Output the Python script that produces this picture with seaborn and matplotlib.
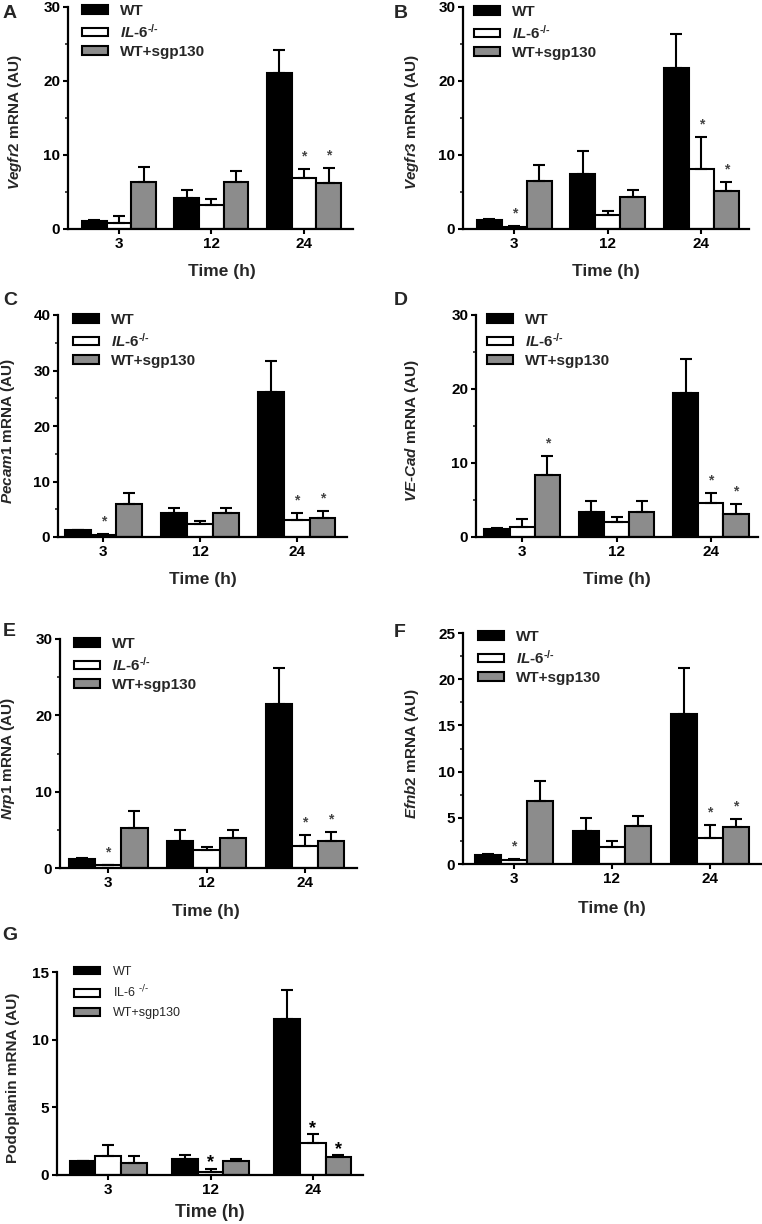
import numpy as np
import pandas as pd
import matplotlib
matplotlib.use("Agg")
import matplotlib.pyplot as plt
import seaborn as sns
from matplotlib.ticker import MultipleLocator

sns.set_style("ticks")
plt.rcParams["font.family"] = ["Liberation Sans", "DejaVu Sans"]
plt.rcParams["mathtext.fontset"] = "custom"
plt.rcParams["mathtext.rm"] = "Liberation Sans:bold"
plt.rcParams["mathtext.bf"] = "Liberation Sans:bold"
plt.rcParams["mathtext.it"] = "Liberation Sans:italic:bold"
plt.rcParams["mathtext.sf"] = "Liberation Sans:bold"

# ---------------- data ----------------
times = ["3", "12", "24"]
groups_bold = ["WT", "$\\mathit{IL}$-$\\mathit{6}^{\u2010/\u2010}$", "WT+sgp130"]
groups_plain = ["WT", "IL-6 $^{\u2010/\u2010}$", "WT+sgp130"]
colors = ["#000000", "#ffffff", "#8c8c8c"]

# Panel A: Vegfr2
A_wt, A_wt_err = [1.1, 4.2, 21.1], [0.1, 1.1, 3.1]
A_ko, A_ko_err = [0.8, 3.2, 6.9], [0.9, 0.8, 1.2]
A_sg, A_sg_err = [6.4, 6.3, 6.2], [2.0, 1.5, 2.0]
A_stars = [(2, 1), (2, 2)]

# Panel B: Vegfr3
B_wt, B_wt_err = [1.2, 7.5, 21.7], [0.1, 3.1, 4.6]
B_ko, B_ko_err = [0.3, 1.9, 8.1], [0.05, 0.5, 4.3]
B_sg, B_sg_err = [6.5, 4.3, 5.2], [2.1, 1.0, 1.2]
B_stars = [(0, 1), (2, 1), (2, 2)]

# Panel C: Pecam1
C_wt, C_wt_err = [1.2, 4.3, 26.2], [0.1, 0.9, 5.6]
C_ko, C_ko_err = [0.4, 2.3, 3.1], [0.1, 0.5, 1.3]
C_sg, C_sg_err = [6.0, 4.3, 3.5], [2.0, 0.9, 1.2]
C_stars = [(0, 1), (2, 1), (2, 2)]

# Panel D: VE-Cad
D_wt, D_wt_err = [1.1, 3.4, 19.4], [0.1, 1.5, 4.7]
D_ko, D_ko_err = [1.3, 2.0, 4.6], [1.2, 0.7, 1.3]
D_sg, D_sg_err = [8.4, 3.4, 3.1], [2.6, 1.5, 1.4]
D_stars = [(0, 2), (2, 1), (2, 2)]

# Panel E: Nrp1
E_wt, E_wt_err = [1.2, 3.6, 21.5], [0.1, 1.4, 4.7]
E_ko, E_ko_err = [0.4, 2.3, 2.9], [0.05, 0.4, 1.4]
E_sg, E_sg_err = [5.3, 3.9, 3.5], [2.2, 1.1, 1.2]
E_stars = [(0, 1), (2, 1), (2, 2)]

# Panel F: Efnb2
F_wt, F_wt_err = [1.0, 3.6, 16.2], [0.1, 1.4, 5.0]
F_ko, F_ko_err = [0.43, 1.85, 2.8], [0.1, 0.65, 1.4]
F_sg, F_sg_err = [6.8, 4.1, 4.05], [2.15, 1.1, 0.85]
F_stars = [(0, 1), (2, 1), (2, 2)]

# Panel G: Podoplanin
G_wt, G_wt_err = [1.04, 1.19, 11.5], [0.03, 0.29, 2.15]
G_ko, G_ko_err = [1.4, 0.25, 2.4], [0.8, 0.22, 0.64]
G_sg, G_sg_err = [0.86, 1.0, 1.31], [0.54, 0.19, 0.15]
G_stars = [(1, 1), (2, 1), (2, 2)]

# ---------------- figure ----------------
W, H = 762, 1224
fig = plt.figure(figsize=(W / 100, H / 100), dpi=100)


def add_ax(l, r, t, b):
    return fig.add_axes([l / W, 1 - b / H, (r - l) / W, (b - t) / H])


def panel(ax, vals, errs, stars, ylabel, ymax, major, minor, ylab_x, xlab_x,
          xlab_y, leg_anchor, xlim, width, style="bold"):
    labels = groups_bold if style == "bold" else groups_plain
    rows = []
    for g, v in zip(labels, vals):
        for t, val in zip(times, v):
            rows.append((t, g, val))
    df = pd.DataFrame(rows, columns=["time", "group", "value"])
    sns.barplot(data=df, x="time", y="value", hue="group", order=times,
                hue_order=labels, palette=dict(zip(labels, colors)),
                edgecolor="black", linewidth=1.5, errorbar=None,
                width=width, saturation=1, ax=ax)
    bars = list(ax.containers)
    for cont, e in zip(bars, errs):
        xs = [p.get_x() + p.get_width() / 2 for p in cont]
        hs = [p.get_height() for p in cont]
        ax.errorbar(xs, hs, yerr=[np.zeros(len(e)), e], fmt="none",
                    ecolor="black", elinewidth=1.5, capsize=4.5,
                    capthick=1.5, zorder=3)
    for ti, gi in stars:
        p = bars[gi][ti]
        top = p.get_height() + errs[gi][ti]
        if style == "bold":
            ax.annotate("*", (p.get_x() + p.get_width() / 2, top),
                        xytext=(0, 9), textcoords="offset points",
                        ha="center", va="center", fontsize=10,
                        color="#444444", fontweight="bold")
        else:
            ax.annotate("*", (p.get_x() + p.get_width() / 2, top),
                        xytext=(0, 4), textcoords="offset points",
                        ha="center", va="center", fontsize=13,
                        color="black", fontweight="bold")
    ax.set_ylim(0, ymax)
    ax.set_xlim(*xlim)
    ax.yaxis.set_major_locator(MultipleLocator(major))
    if minor:
        ax.yaxis.set_minor_locator(MultipleLocator(minor))
    sns.despine(ax=ax)
    for s in ["left", "bottom"]:
        ax.spines[s].set_linewidth(1.6)
        ax.spines[s].set_color("black")
    ax.tick_params(axis="both", which="major", length=3.5, width=1.5,
                   pad=2, labelsize=11, colors="black", direction="out")
    ax.tick_params(axis="y", which="minor", length=2.5, width=1.2,
                   direction="out")
    for lab in ax.get_xticklabels() + ax.get_yticklabels():
        lab.set_fontweight("bold")
    ax.set_ylabel(ylabel, fontsize=11, fontweight="bold")
    ax.yaxis.set_label_coords(ylab_x, 0.48)
    ax.set_xlabel("Time (h)", fontsize=12.5 if style == "bold" else 13,
                  fontweight="bold")
    ax.xaxis.set_label_coords(xlab_x, xlab_y)
    if style == "bold":
        sns.move_legend(ax, "upper left", bbox_to_anchor=leg_anchor,
                        frameon=False, title=None, handlelength=1.7,
                        handleheight=0.5, handletextpad=0.8,
                        labelspacing=0.3, borderaxespad=0, borderpad=0,
                        prop={"weight": "bold", "size": 11})
    else:
        sns.move_legend(ax, "upper left", bbox_to_anchor=leg_anchor,
                        frameon=False, title=None, handlelength=2.1,
                        handleheight=0.6, handletextpad=1.0,
                        labelspacing=0.5, borderaxespad=0, borderpad=0,
                        prop={"size": 9})
        for t in ax.get_legend().get_texts():
            t.set_math_fontfamily("dejavusans")
    leg = ax.get_legend()
    for h in leg.legend_handles:
        h.set_edgecolor("black")
        h.set_linewidth(1.5)


axA = add_ax(68, 353, 7, 229)
panel(axA, [A_wt, A_ko, A_sg], [A_wt_err, A_ko_err, A_sg_err], A_stars,
      r"$\mathit{Vegfr2}$ mRNA (AU)", 30, 10, 5, -0.154, 0.54, -0.158,
      (0.049, 1.014), (-0.55, 2.53), 0.8)

axB = add_ax(463, 749, 7, 229)
panel(axB, [B_wt, B_ko, B_sg], [B_wt_err, B_ko_err, B_sg_err], B_stars,
      r"$\mathit{Vegfr3}$ mRNA (AU)", 30, 10, 5, -0.147, 0.5, -0.158,
      (0.038, 1.009), (-0.55, 2.51), 0.8)

axC = add_ax(58, 347, 315, 537)
panel(axC, [C_wt, C_ko, C_sg], [C_wt_err, C_ko_err, C_sg_err], C_stars,
      r"$\mathit{Pecam1}$ mRNA (AU)", 40, 10, 5, -0.142, 0.5, -0.158,
      (0.052, 1.009), (-0.47, 2.52), 0.8)

axD = add_ax(476, 758, 315, 537)
panel(axD, [D_wt, D_ko, D_sg], [D_wt_err, D_ko_err, D_sg_err], D_stars,
      r"$\mathit{VE}$-$\mathit{Cad}$ mRNA (AU)", 30, 10, 5, -0.195, 0.5,
      -0.158, (0.039, 1.009), (-0.49, 2.5), 0.8)

axE = add_ax(60, 357, 639, 868)
panel(axE, [E_wt, E_ko, E_sg], [E_wt_err, E_ko_err, E_sg_err], E_stars,
      r"$\mathit{Nrp1}$ mRNA (AU)", 30, 10, 5, -0.145, 0.49, -0.157,
      (0.047, 1.009), (-0.49, 2.53), 0.8)

axF = add_ax(463, 761, 633, 864)
panel(axF, [F_wt, F_ko, F_sg], [F_wt_err, F_ko_err, F_sg_err], F_stars,
      r"$\mathit{Efnb2}$ mRNA (AU)", 25, 5, 2.5, -0.141, 0.5, -0.16,
      (0.05, 1.013), (-0.52, 2.52), 0.8)

axG = add_ax(57, 363, 972, 1175)
panel(axG, [G_wt, G_ko, G_sg], [G_wt_err, G_ko_err, G_sg_err], G_stars,
      "Podoplanin mRNA (AU)", 15, 5, None, -0.121, 0.5, -0.143,
      (0.056, 1.03), (-0.5, 2.49), 0.75, style="plain")

# panel letters
for letter, x, y in [("A", 3, 5), ("B", 394, 5), ("C", 3, 292), ("D", 394, 292),
                     ("E", 3, 623), ("F", 394, 624), ("G", 2, 927)]:
    fig.text(x / W, 1 - y / H, letter, fontsize=14, fontweight="bold",
             ha="left", va="top")

fig.savefig("out.png", dpi=100)
